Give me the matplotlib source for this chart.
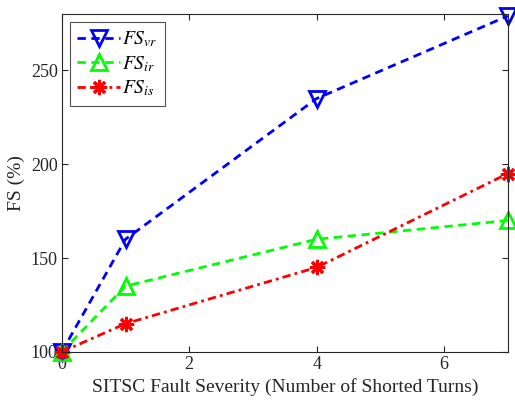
import numpy as np
import matplotlib
matplotlib.use('Agg')
import matplotlib.pyplot as plt

plt.rcParams['font.family'] = ['Liberation Serif', 'DejaVu Serif']
plt.rcParams['mathtext.fontset'] = 'stix'

# 短路匝数
turns = [0, 1, 4, 7]
# 各指标 FS (%)
fs_vr = [100, 160, 235, 279]
fs_ir = [100, 135, 160, 170]
fs_is = [100, 115, 145, 195]

fig = plt.figure(figsize=(5.15, 4.03), dpi=100)
ax = fig.add_axes([0.120, 0.127, 0.866, 0.838])

ax.plot(turns, fs_vr, color='#0000ff', lw=2, dashes=(3, 2), marker='v', ms=12,
        mfc='none', mew=2, label=r'$FS_{vr}$', clip_on=False)
ax.plot(turns, fs_ir, color='#00ff00', lw=2, dashes=(3, 2), marker='^', ms=12,
        mfc='none', mew=2, label=r'$FS_{ir}$', clip_on=False)
ax.plot(turns, fs_is, color='#ff0000', lw=2, dashes=(3, 1.5, 1, 1.5), marker=(8, 2, 0),
        ms=11, mew=2, label=r'$FS_{is}$', clip_on=False)

ax.set_xlim(0, 7)
ax.set_ylim(100, 280)
ax.set_xticks([0, 2, 4, 6])
ax.set_yticks([100, 150, 200, 250])
ax.tick_params(direction='in', top=True, right=True, labelsize=13, length=4, pad=3,
               colors='#262626')
for s in ax.spines.values():
    s.set_linewidth(0.8)
    s.set_color('#262626')

ax.set_xlabel('SITSC Fault Severity (Number of Shorted Turns)', fontsize=14, color='#262626')
ax.set_ylabel('FS (%)', fontsize=14, color='#262626')

leg = ax.legend(loc='upper left', fontsize=14, handlelength=2.2, handletextpad=0.1,
                borderaxespad=0.4, labelspacing=0.25, fancybox=False, edgecolor='#262626')
leg.get_frame().set_linewidth(0.8)

fig.savefig('out.png', dpi=100)
